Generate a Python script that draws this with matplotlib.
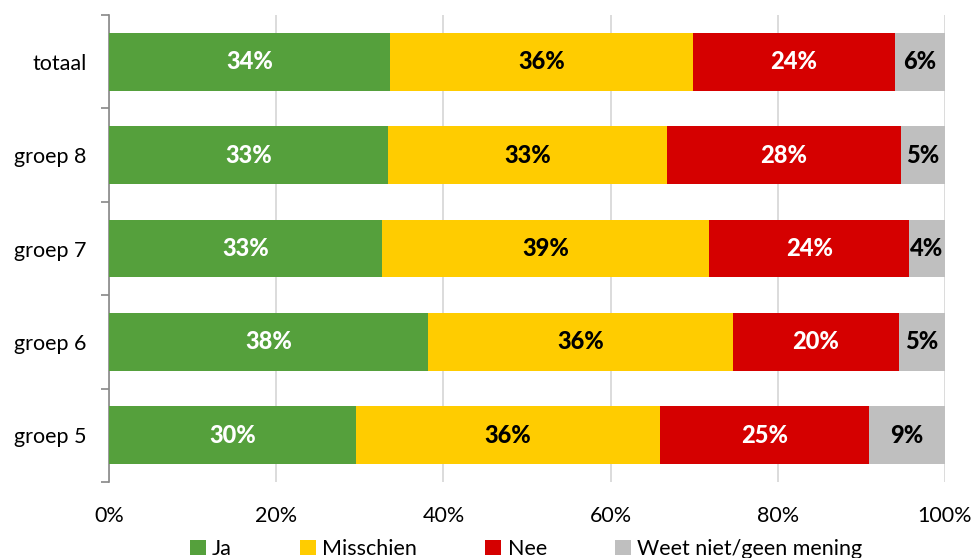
import matplotlib
matplotlib.use("Agg")
import matplotlib.pyplot as plt
import numpy as np

plt.rcParams['font.family'] = ['Lato', 'DejaVu Sans']

categories = ["totaal", "groep 8", "groep 7", "groep 6", "groep 5"]
series_names = ["Ja", "Misschien", "Nee", "Weet niet/geen mening"]
ja = [33.6, 33.4, 32.7, 38.2, 29.5]
misschien = [36.3, 33.3, 39.1, 36.4, 36.4]
nee = [24.1, 28.0, 23.9, 19.9, 25.0]
weet_niet = [6.0, 5.3, 4.3, 5.5, 9.1]
labels = [
    ["34%", "33%", "33%", "38%", "30%"],
    ["36%", "33%", "39%", "36%", "36%"],
    ["24%", "28%", "24%", "20%", "25%"],
    ["6%", "5%", "4%", "5%", "9%"],
]
colors = ["#55a03c", "#ffcc00", "#d50000", "#bfbfbf"]
text_colors = ["white", "black", "white", "black"]
xticks = [0, 20, 40, 60, 80, 100]
xtick_labels = ["0%", "20%", "40%", "60%", "80%", "100%"]

fig = plt.figure(figsize=(9.73, 5.58), dpi=100)
ax = fig.add_axes([109/973, 1-482/558, (945-109)/973, (482-15)/558])

y = np.arange(len(categories))
data = [ja, misschien, nee, weet_niet]
left = np.zeros(len(categories))
for i, (vals, name) in enumerate(zip(data, series_names)):
    vals = np.array(vals)
    ax.barh(y, vals, left=left, height=0.62, color=colors[i], label=name, zorder=3)
    for j, v in enumerate(vals):
        ax.text(left[j] + v/2, y[j], labels[i][j], ha='center', va='center',
                color=text_colors[i], fontsize=17, fontweight='black', zorder=4)
    left += vals

ax.set_xlim(0, 100)
ax.set_ylim(len(categories) - 0.5, -0.5)
ax.set_yticks(y)
ax.set_yticklabels(categories, fontsize=15.5)
ax.set_yticks(np.arange(-0.5, len(categories)), minor=True)
ax.tick_params(axis='y', which='major', length=0, pad=16)
ax.tick_params(axis='y', which='minor', length=6, color='#888888', width=1.2, direction='out')
ax.set_xticks(xticks)
ax.set_xticklabels(xtick_labels, fontsize=15.5)
ax.tick_params(axis='x', length=0, pad=17)
ax.xaxis.grid(True, color='#d9d9d9', linewidth=1.3, zorder=0)
ax.set_axisbelow(True)
for s in ['top', 'right', 'bottom']:
    ax.spines[s].set_visible(False)
ax.spines['left'].set_color('#888888')
ax.spines['left'].set_linewidth(1.2)

leg = fig.legend(loc='center', bbox_to_anchor=(526/973, 1-549/558), ncol=4, frameon=False,
                 fontsize=15.5, handlelength=0.75, handleheight=0.75, handletextpad=0.3,
                 columnspacing=3.15)

fig.savefig("out.png", dpi=100)
